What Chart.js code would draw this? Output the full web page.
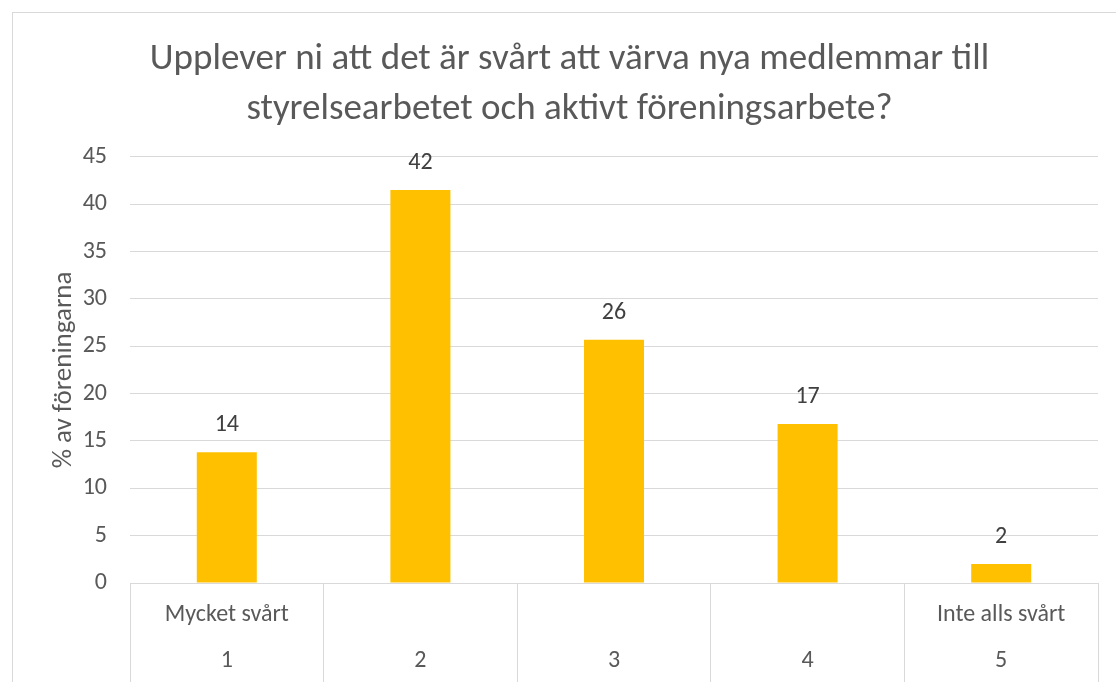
<!DOCTYPE html>
<html>
<head>
<meta charset="utf-8">
<script src="https://cdn.jsdelivr.net/npm/chart.js@4"></script>
<style>
  body { margin: 0; background: #fff; }
  .box { position: absolute; left: 12px; top: 12px; width: 1115px; height: 680px;
         border: 1px solid #d9d9d9; box-sizing: border-box; background: #fff; }
  canvas { display: block; }
</style>
</head>
<body>
<div class="box"><canvas id="c" width="1113" height="670"></canvas></div>
<script>
// Data
var scaleLabels = ['Mycket svårt', '', '', '', 'Inte alls svårt'];
var steps = ['1', '2', '3', '4', '5'];
var shares = [13.8, 41.5, 25.7, 16.8, 2.0];
var shownLabels = ['14', '42', '26', '17', '2'];

var FONT = "Carlito, Calibri, Lato, sans-serif";
var TEXT = '#595959';
var GRID = '#d9d9d9';

// Value labels above each bar
var valueLabels = {
    id: 'valueLabels',
    afterDatasetsDraw: function(chart) {
        var ctx = chart.ctx;
        var meta = chart.getDatasetMeta(0);
        ctx.save();
        ctx.font = '24px ' + FONT;
        ctx.fillStyle = '#404040';
        ctx.textAlign = 'center';
        ctx.textBaseline = 'middle';
        meta.data.forEach(function(bar, i) {
            ctx.fillText(shownLabels[i], bar.x, bar.y - 27);
        });
        ctx.restore();
    }
};

var labels = scaleLabels.map(function(s, i) { return [s, steps[i]]; });

new Chart(document.getElementById('c'), {
    type: 'bar',
    data: {
        labels: labels,
        datasets: [{
            data: shares,
            backgroundColor: '#ffc000',
            categoryPercentage: 1,
            barPercentage: 0.31
        }]
    },
    options: {
        responsive: false,
        animation: false,
        // equal side padding keeps the title centred on the whole box
        layout: { padding: { left: 28, right: 28, top: 0, bottom: 0 } },
        plugins: {
            legend: { display: false },
            tooltip: { enabled: false },
            title: {
                display: true,
                text: ['Upplever ni att det är svårt att värva nya medlemmar till',
                       'styrelsearbetet och aktivt föreningsarbete?'],
                color: TEXT,
                font: { family: FONT, size: 37, weight: 'normal', lineHeight: 1.35 },
                padding: { top: 22, bottom: 22 }
            }
        },
        scales: {
            x: {
                offset: true,
                grid: { offset: true, drawOnChartArea: false, color: GRID, tickLength: 100, lineWidth: 1 },
                border: { color: GRID },
                ticks: {
                    color: TEXT,
                    padding: -91,
                    maxRotation: 0,
                    autoSkip: false,
                    font: { family: FONT, size: 24, lineHeight: 1.92 }
                },
                afterFit: function(s) { s.height = 100; }
            },
            y: {
                min: 0,
                max: 45,
                ticks: { stepSize: 5, color: TEXT, padding: 23, font: { family: FONT, size: 24 } },
                grid: { color: GRID, drawTicks: false, lineWidth: 1 },
                border: { display: false },
                title: {
                    display: true,
                    text: '% av föreningarna',
                    color: TEXT,
                    font: { family: FONT, size: 27 },
                    padding: { top: 7, bottom: 0 }
                },
                afterFit: function(s) { s.width = 89; }
            }
        }
    },
    plugins: [valueLabels]
});
</script>
</body>
</html>
